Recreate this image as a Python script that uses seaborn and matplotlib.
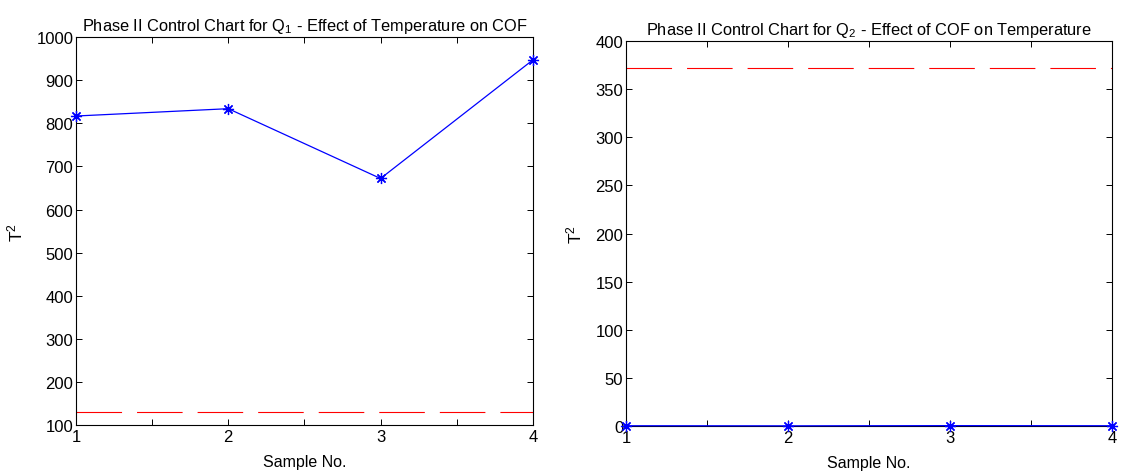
import numpy as np
import pandas as pd
import matplotlib
matplotlib.use("Agg")
import matplotlib.pyplot as plt
import seaborn as sns

# Phase II T^2 statistics per sample
samples = [1, 2, 3, 4]
t2_q1 = [817, 834, 672, 947]
t2_q2 = [0.3, 0.2, 0.4, 0.3]
ucl_q1 = 130
ucl_q2 = 372

titles = [
    "Phase II Control Chart for Q$\\mathregular{_1}$ - Effect of Temperature on COF",
    "Phase II Control Chart for Q$\\mathregular{_2}$ - Effect of COF on Temperature",
]
ylims = [(100, 1000), (0, 400)]
yticks = [np.arange(100, 1001, 100), np.arange(0, 401, 50)]
xticks = [1, 1.5, 2, 2.5, 3, 3.5, 4]
xticklabels = ["1", "", "2", "", "3", "", "4"]

sns.set_theme(style="white")
plt.rcParams["font.family"] = ["Liberation Sans", "DejaVu Sans"]
plt.rcParams["mathtext.fontset"] = "custom"
plt.rcParams["mathtext.rm"] = "Liberation Sans"
plt.rcParams["mathtext.it"] = "Liberation Sans:italic"

fig = plt.figure(figsize=(11.25, 4.77), dpi=100)
axes = [
    fig.add_axes([0.0676, 0.107, 0.406, 0.813]),
    fig.add_axes([0.5564, 0.1048, 0.432, 0.807]),
]

# asterisk marker: eight thin spokes
asterisk = (8, 2, 0)

for ax, vals, ucl, title, ylim, yt in zip(
    axes, [t2_q1, t2_q2], [ucl_q1, ucl_q2], titles, ylims, yticks
):
    df = pd.DataFrame({"Sample": samples, "T2": vals})
    ax.axhline(ucl, color="#ff0000", lw=0.8, dashes=(41, 13.5), zorder=2)
    sns.lineplot(
        data=df, x="Sample", y="T2", ax=ax, color="#0000ff", lw=0.9,
        marker=asterisk, markersize=8, markeredgecolor="#0000ff",
        markerfacecolor="#0000ff", markeredgewidth=0.9, clip_on=False, zorder=5,
    )
    ax.set_xlim(1, 4)
    ax.set_ylim(*ylim)
    ax.set_xticks(xticks)
    ax.set_xticklabels(xticklabels)
    ax.set_yticks(yt)
    ax.set_yticklabels([str(v) for v in yt])
    ax.tick_params(direction="in", length=4, width=0.7, color="black",
                   top=True, right=True, bottom=True, left=True,
                   labelsize=12, labelcolor="black", pad=2)
    ax.tick_params(axis="x", pad=3)
    for s in ax.spines.values():
        s.set_visible(True)
        s.set_color("black")
        s.set_linewidth(0.8)
    ax.set_title(title, fontsize=11.8, color="black", pad=5)
    ax.set_xlabel("Sample No.", fontsize=11.5, color="black", labelpad=7)
    ax.set_ylabel("T$\\mathregular{^2}$", fontsize=12.5, color="black", labelpad=8)
    ax.grid(False)

fig.savefig("out.png", dpi=100)
